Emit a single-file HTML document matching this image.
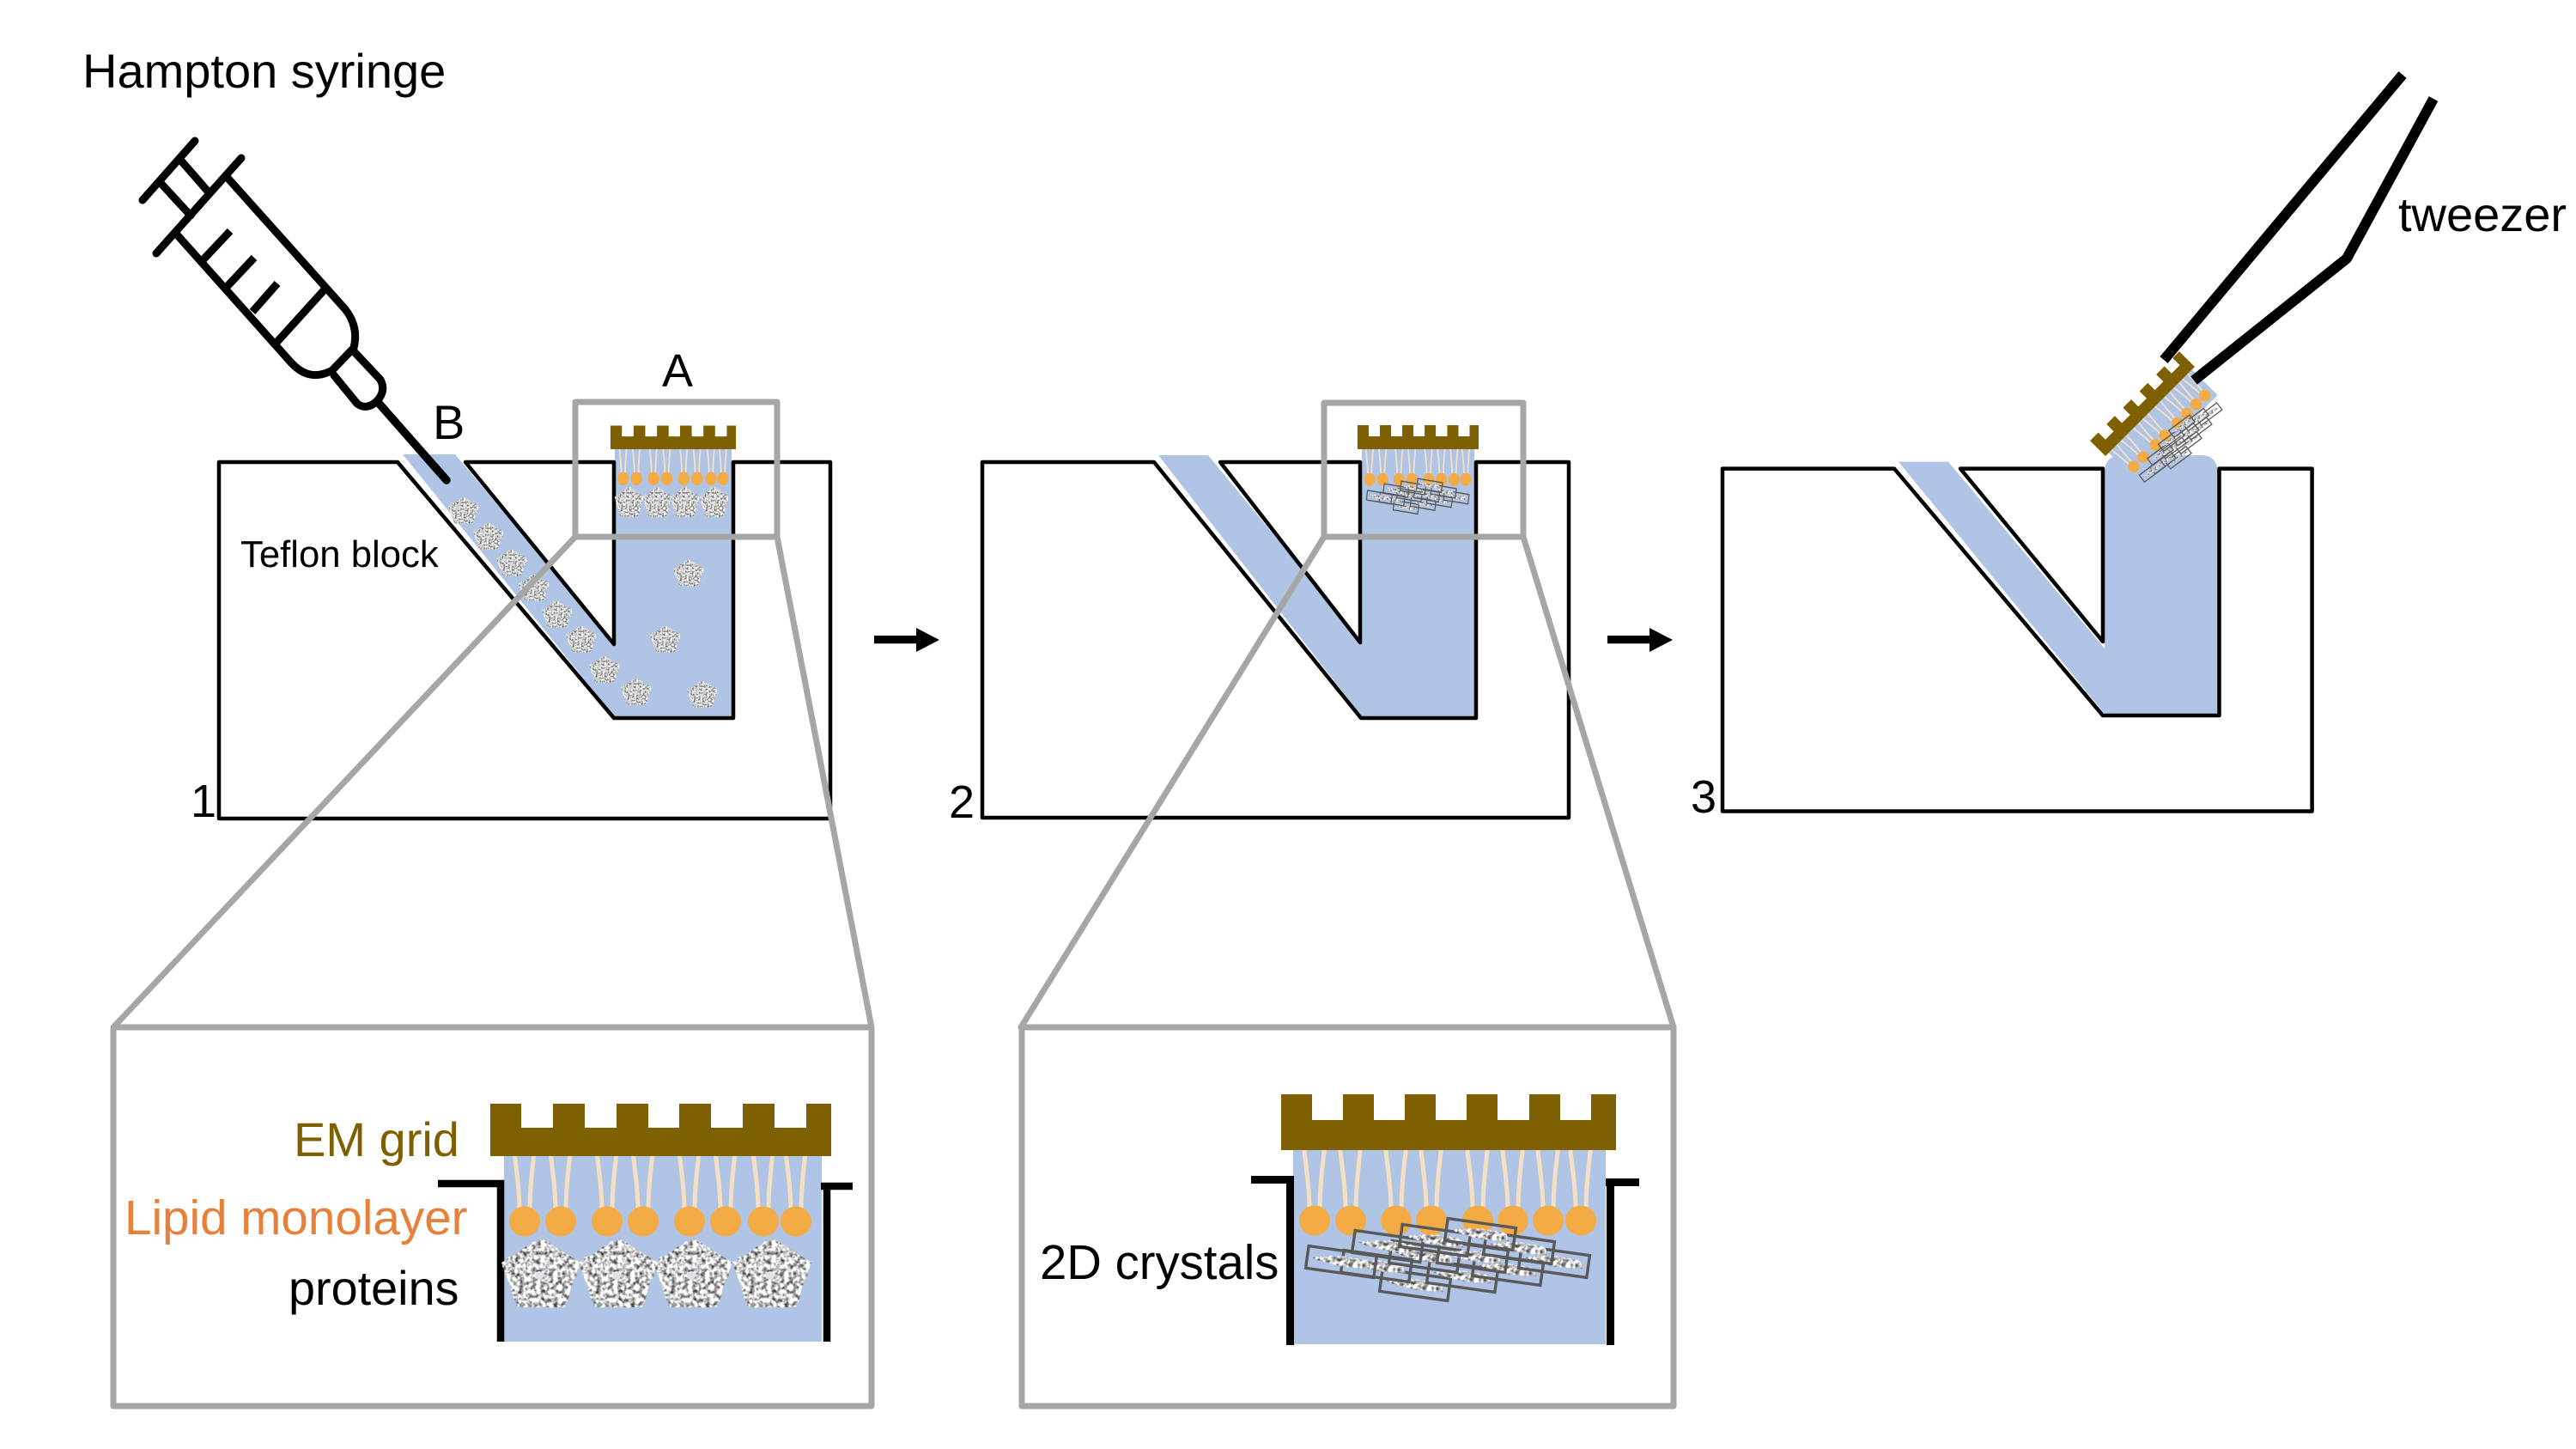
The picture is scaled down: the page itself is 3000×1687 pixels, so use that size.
<!DOCTYPE html>
<html>
<head>
<meta charset="utf-8">
<title>2D crystallization</title>
<style>
html,body{margin:0;padding:0;background:#fff}
svg{display:block}
text{font-family:"Liberation Sans",sans-serif;fill:#000}
</style>
</head>
<body>
<svg width="3000" height="1687" viewBox="0 0 3000 1687" xmlns="http://www.w3.org/2000/svg">
<defs>
<filter id="noise" x="-10%" y="-10%" width="120%" height="120%" color-interpolation-filters="sRGB">
  <feTurbulence type="fractalNoise" baseFrequency="0.2" numOctaves="2" seed="4" result="t"/>
  <feDisplacementMap in="SourceGraphic" in2="t" scale="3" result="d"/>
  <feColorMatrix in="t" type="matrix" values="1.9 0 0 0 -0.15  1.9 0 0 0 -0.15  1.9 0 0 0 -0.15  0 0 0 0 1" result="g"/>
  <feComposite in="g" in2="d" operator="in"/>
</filter>
<g id="penta">
  <path d="M0,-41 L46,-12 L28,40 L-28,40 L-46,-12Z" fill="#ccc" filter="url(#noise)"/>
  <ellipse cx="-2" cy="3" rx="5" ry="5" fill="#dfe3ea"/>
</g>
<g id="h">
  <path d="M-6,-10 C-6,-40 -10,-60 -13,-90 M6,-10 C6,-40 9,-60 12,-90" fill="none" stroke="#f6e0c4" stroke-width="5"/>
  <ellipse cx="0" cy="0" rx="18" ry="17.5" fill="#f2ab45"/>
</g>
<path id="G1" d="M0,0V-61H36V-33H73V-61H110V-33H147V-61H184V-33H220V-61H257V-33H294V-61H331V-33H368V-61H397V0Z" fill="#7f6000"/>
<path id="G2" d="M0,0V-65H36V-35H72V-65H108V-35H144V-65H180V-35H216V-65H252V-35H289V-65H325V-35H361V-65H390V0Z" fill="#7f6000"/>
<g id="L1">
  <use href="#h" x="40" y="76"/><use href="#h" x="82" y="76"/><use href="#h" x="136" y="76"/><use href="#h" x="178" y="76"/>
  <use href="#h" x="232" y="76"/><use href="#h" x="274" y="76"/><use href="#h" x="318" y="76"/><use href="#h" x="356" y="76"/>
</g>
<g id="L2">
  <use href="#h" x="39" y="82"/><use href="#h" x="81" y="82"/><use href="#h" x="134" y="82"/><use href="#h" x="175" y="82"/>
  <use href="#h" x="229" y="82"/><use href="#h" x="270" y="82"/><use href="#h" x="311" y="82"/><use href="#h" x="349" y="82"/>
</g>
<g id="P1">
  <use href="#penta" x="59" y="136"/><use href="#penta" x="149" y="136"/><use href="#penta" x="236" y="136"/><use href="#penta" x="328" y="136"/>
</g>
<g id="lens"><path d="M-34,0 Q-8,-9 30,-5 L34,3 Q0,9 -34,0Z" fill="#ccc" stroke="none" filter="url(#noise)"/></g>
<g id="cr">
  <use href="#lens"/>
  <rect x="-40" y="-13" width="80" height="26"/>
</g>
<g id="C" fill="none" stroke="#595959" stroke-width="3.4">
  <use href="#cr" transform="translate(156,157) rotate(8)"/>
  <use href="#cr" transform="translate(211,147) rotate(8)"/>
  <use href="#cr" transform="translate(111,135) rotate(8)"/>
  <use href="#cr" transform="translate(264,139) rotate(8)"/>
  <use href="#cr" transform="translate(70,130) rotate(8)"/>
  <use href="#cr" transform="translate(318,130) rotate(8)"/>
  <use href="#cr" transform="translate(167,124) rotate(8)"/>
  <use href="#cr" transform="translate(223,124) rotate(8)"/>
  <use href="#cr" transform="translate(124,112) rotate(8)"/>
  <use href="#cr" transform="translate(277,114) rotate(8)"/>
  <use href="#cr" transform="translate(179,105) rotate(8)"/>
  <use href="#cr" transform="translate(232,98) rotate(8)"/>
</g>
</defs>

<rect width="3000" height="1687" fill="#fff"/>

<!-- Panel 1 -->
<path d="M716,522H852V835H716L469,529H530L716,750Z" fill="#b0c5e6"/>
<path d="M463,538H255V953H967V538H854V836H715L463,538ZM542,538H715V750Z" fill="none" stroke="#000" stroke-width="4.5" stroke-linejoin="round"/>
<g transform="translate(711,523) scale(.368,.45)">
  <use href="#L1"/><use href="#P1"/><use href="#G1"/>
</g>
<g>
  <use href="#penta" transform="translate(540,594) scale(.39)"/>
  <use href="#penta" transform="translate(569,624) scale(.39)"/>
  <use href="#penta" transform="translate(596,655) scale(.39)"/>
  <use href="#penta" transform="translate(622,684) scale(.39)"/>
  <use href="#penta" transform="translate(649,715) scale(.39)"/>
  <use href="#penta" transform="translate(677,744) scale(.39)"/>
  <use href="#penta" transform="translate(704,779) scale(.39)"/>
  <use href="#penta" transform="translate(741,805) scale(.39)"/>
  <use href="#penta" transform="translate(818,808) scale(.39)"/>
  <use href="#penta" transform="translate(775,744) scale(.39)"/>
  <use href="#penta" transform="translate(802,667) scale(.39)"/>
</g>

<!-- Panel 2 -->
<path d="M1586,523H1717V834H1586L1349,530H1407L1586,747Z" fill="#b0c5e6"/>
<path d="M1344,538H1144V952H1827V538H1719V836H1585L1344,538ZM1421,538H1584V748Z" fill="none" stroke="#000" stroke-width="4.5" stroke-linejoin="round"/>
<g transform="translate(1581,523) scale(.3615,.43)">
  <use href="#L2"/><use href="#C"/><use href="#G2"/>
</g>

<!-- Panel 3 -->
<path d="M2211,537.6H2269L2451,755V550Q2451,530 2471,530H2563Q2583,530 2583,552V831H2451Z" fill="#b0c5e6"/>
<path d="M2206,545.6H2006V944.5H2692.6V545.6H2584.5V833H2449L2206,545.6ZM2283,545.6H2449V747Z" fill="none" stroke="#000" stroke-width="4.5" stroke-linejoin="round"/>
<g transform="translate(2452,531) rotate(-45) scale(.377,.39)">
  <rect x="14" y="0" width="364" height="108" fill="#b0c5e6"/>
  <use href="#L2"/><use href="#C"/><use href="#G2"/>
</g>

<!-- Zoom boxes and rays -->
<g fill="none" stroke="#a6a6a6" stroke-width="7" stroke-linejoin="round" stroke-linecap="round">
  <rect x="670" y="468" width="235" height="157"/>
  <path d="M670,625L132,1196M905,625L1015,1196"/>
  <rect x="132" y="1196" width="883" height="441"/>
  <rect x="1542" y="469" width="232" height="156"/>
  <path d="M1542,625L1189,1196M1774,625L1949,1196"/>
  <rect x="1190" y="1196" width="759" height="441"/>
</g>

<!-- Inset 1 -->
<rect x="587" y="1346" width="370" height="216" fill="#b0c5e6"/>
<path d="M510,1378H583V1562M956,1381H993M963,1381V1562" fill="none" stroke="#000" stroke-width="8.5"/>
<g transform="translate(571,1346)">
  <use href="#L1"/><use href="#P1"/><use href="#G1"/>
</g>
<text x="342" y="1346" font-size="56" style="fill:#7f6000">EM grid</text>
<text x="145" y="1437" font-size="56.600" style="fill:#e7803a">Lipid monolayer</text>
<text x="336" y="1519" font-size="55.800">proteins</text>

<!-- Inset 2 -->
<rect x="1506" y="1339" width="364" height="226" fill="#b0c5e6"/>
<path d="M1457,1373.5H1502.5V1566M1870,1376.5H1909M1875.500,1376.500V1566" fill="none" stroke="#000" stroke-width="9"/>
<g transform="translate(1492,1339)">
  <use href="#L2"/><use href="#C"/><use href="#G2"/>
</g>
<text x="1211" y="1489" font-size="56.300">2D crystals</text>

<!-- Syringe -->
<g fill="none" stroke="#000" stroke-width="9" stroke-linecap="round" stroke-linejoin="round">
  <path d="M166,233L227,164M182,295L281,184M187,213L222,251M210,186L244,225"/>
  <path d="M265,207L402,360Q418,380 412,405L387,431Q360,446 338,421L205,272"/>
  <path d="M378,337L320,401M268,269L237,302M296,300L265,333M323,330L294,363" stroke-linecap="butt"/>
  <path d="M412,409L443,442Q450,455 439,467Q427,478 416,470L389,437"/>
  <path d="M439,467L520,559" stroke-width="9.500"/>
</g>

<!-- Tweezer -->
<path d="M2798,87L2520,419M2834,115L2733,301L2555,443" fill="none" stroke="#000" stroke-width="12" stroke-linejoin="bevel"/>

<!-- Arrows -->
<path d="M1018,740H1067V731L1094,745L1067,759V749.300H1018Z" fill="#000"/>
<path d="M1872,740H1921V731L1948,745L1921,759V749.300H1872Z" fill="#000"/>

<!-- Labels -->
<text x="96" y="102" font-size="56">Hampton syringe</text>
<text x="280" y="660" font-size="43.700">Teflon block</text>
<text x="771" y="450" font-size="54">A</text>
<text x="504" y="511" font-size="56">B</text>
<text x="222" y="951" font-size="54">1</text>
<text x="1105" y="952" font-size="54">2</text>
<text x="1969" y="946" font-size="54">3</text>
<text x="2793" y="269" font-size="56">tweezer</text>
</svg>
</body>
</html>
